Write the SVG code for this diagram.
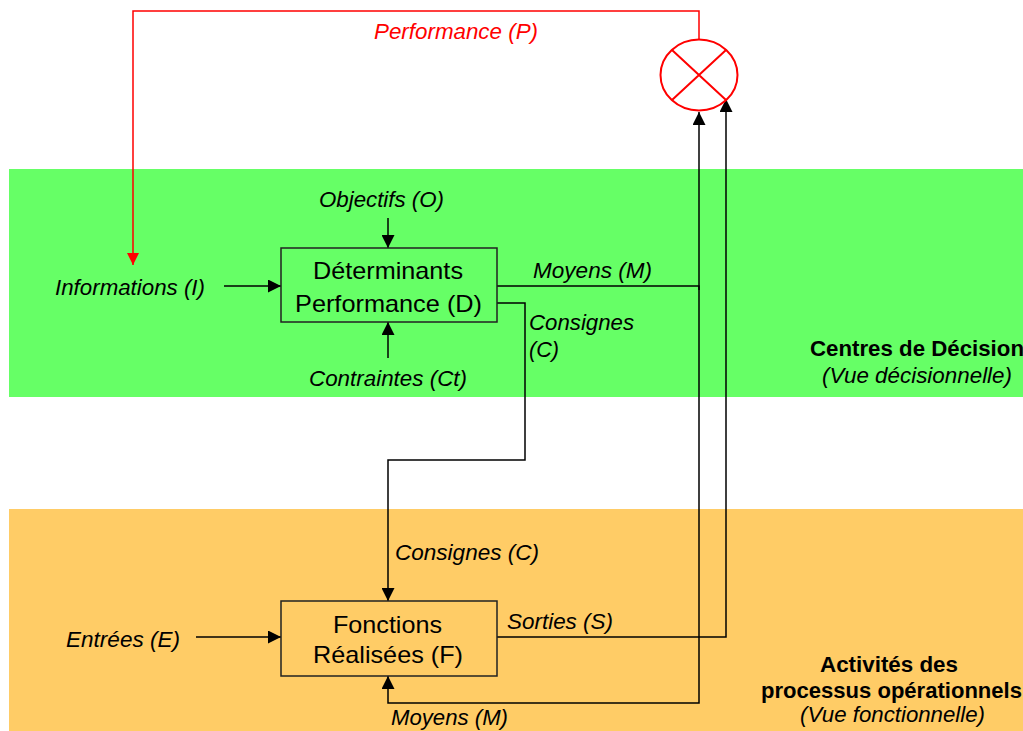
<svg xmlns="http://www.w3.org/2000/svg" width="1023" height="731" viewBox="0 0 1023 731">
<defs>
<style>
.lbl{font-family:"Liberation Sans",Arial,sans-serif;font-size:22px;font-style:italic;fill:#000}
.box{font-family:"Liberation Sans",Arial,sans-serif;font-size:24px;fill:#000}
.bold{font-family:"Liberation Sans",Arial,sans-serif;font-size:22px;font-weight:bold;fill:#000}
.node rect{stroke:#222;stroke-width:1.5}
.con{fill:none;stroke:#000;stroke-width:1.5}
.red{fill:none;stroke:#f00;stroke-width:1.5}
</style>
<marker id="ah" markerUnits="userSpaceOnUse" markerWidth="13" markerHeight="13" refX="13" refY="6.5" orient="auto">
<path d="M0,0 L13,6.5 L0,13 z" fill="#000"/>
</marker>
<marker id="ahr" markerUnits="userSpaceOnUse" markerWidth="12" markerHeight="12" refX="12" refY="6" orient="auto">
<path d="M0,0 L12,6 L0,12 z" fill="#f00"/>
</marker>
</defs>
<rect width="1023" height="731" fill="#fff"/>
<g id="band-decision">
<rect x="9" y="169" width="1014" height="228" fill="#66FF66"/>
<text class="bold" x="917" y="356" text-anchor="middle" textLength="214" lengthAdjust="spacingAndGlyphs">Centres de Décision</text>
<text class="lbl" x="822" y="383" textLength="190" lengthAdjust="spacingAndGlyphs">(Vue décisionnelle)</text>
</g>
<g id="band-operations">
<rect x="9" y="509" width="1014" height="222" fill="#FFCC66"/>
<text class="bold" x="820" y="672" textLength="138" lengthAdjust="spacingAndGlyphs">Activités des</text>
<text class="bold" x="761" y="698" textLength="261" lengthAdjust="spacingAndGlyphs">processus opérationnels</text>
<text class="lbl" x="800" y="722" textLength="185" lengthAdjust="spacingAndGlyphs">(Vue fonctionnelle)</text>
</g>
<g id="connectors">
<path class="red" d="M699,40 V11 H133 V265" marker-end="url(#ahr)"/>
<path class="con" d="M388,218 V248" marker-end="url(#ah)"/>
<path class="con" d="M388,358 V322" marker-end="url(#ah)"/>
<path class="con" d="M224,286 H281" marker-end="url(#ah)"/>
<path class="con" d="M497,286 H699 V703 H388 V676" marker-end="url(#ah)"/>
<path class="con" d="M699,290 V112" marker-end="url(#ah)"/>
<path class="con" d="M497,637 H726 V99" marker-end="url(#ah)"/>
<path class="con" d="M497,303 H525 V460 H388 V601" marker-end="url(#ah)"/>
<path class="con" d="M196,637 H281" marker-end="url(#ah)"/>
</g>
<g id="comparator">
<ellipse cx="699" cy="75" rx="38.5" ry="35.5" fill="none" stroke="#f00" stroke-width="2"/>
<path d="M672,50 L726,100 M726,50 L672,100" stroke="#f00" stroke-width="2" fill="none"/>
</g>
<g id="node-D" class="node">
<rect x="281" y="248" width="216" height="74" fill="none"/>
<text class="box" x="313" y="279" textLength="150" lengthAdjust="spacingAndGlyphs">Déterminants</text>
<text class="box" x="295" y="312" textLength="187" lengthAdjust="spacingAndGlyphs">Performance (D)</text>
</g>
<g id="node-F" class="node">
<rect x="281" y="601" width="216" height="75" fill="none"/>
<text class="box" x="333" y="633" textLength="109" lengthAdjust="spacingAndGlyphs">Fonctions</text>
<text class="box" x="313" y="663" textLength="150" lengthAdjust="spacingAndGlyphs">Réalisées (F)</text>
</g>
<g id="labels">
<text class="lbl" x="374" y="39" style="fill:#f00" textLength="164" lengthAdjust="spacingAndGlyphs">Performance (P)</text>
<text class="lbl" x="319" y="207" textLength="125" lengthAdjust="spacingAndGlyphs">Objectifs (O)</text>
<text class="lbl" x="55" y="295" textLength="150" lengthAdjust="spacingAndGlyphs">Informations (I)</text>
<text class="lbl" x="533" y="278" textLength="119" lengthAdjust="spacingAndGlyphs">Moyens (M)</text>
<text class="lbl" x="529" y="330" textLength="105" lengthAdjust="spacingAndGlyphs">Consignes</text>
<text class="lbl" x="529" y="357" textLength="30" lengthAdjust="spacingAndGlyphs">(C)</text>
<text class="lbl" x="309" y="386" textLength="158" lengthAdjust="spacingAndGlyphs">Contraintes (Ct)</text>
<text class="lbl" x="395" y="560" textLength="144" lengthAdjust="spacingAndGlyphs">Consignes (C)</text>
<text class="lbl" x="66" y="647" textLength="114" lengthAdjust="spacingAndGlyphs">Entrées (E)</text>
<text class="lbl" x="507" y="629" textLength="106" lengthAdjust="spacingAndGlyphs">Sorties (S)</text>
<text class="lbl" x="391" y="725" textLength="117" lengthAdjust="spacingAndGlyphs">Moyens (M)</text>
</g>
</svg>
